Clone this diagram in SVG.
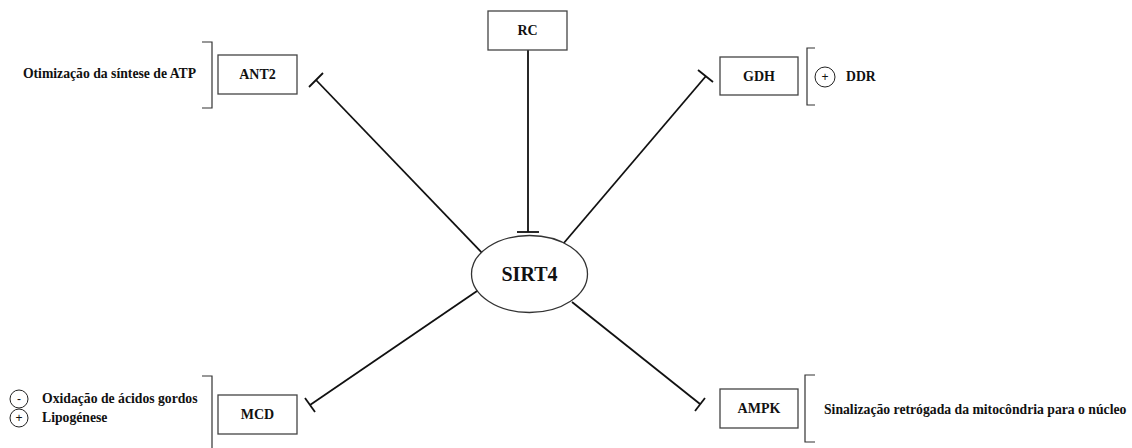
<svg xmlns="http://www.w3.org/2000/svg" width="1132" height="448" viewBox="0 0 1132 448">
  <style>
    .box { fill: #fff; stroke: #444; stroke-width: 1.3; }
    .lbl { font-family: "Liberation Serif", "Times New Roman", serif; font-weight: bold; font-size: 14px; fill: #111; }
    .side { font-family: "Liberation Serif", "Times New Roman", serif; font-weight: bold; font-size: 13.7px; fill: #111; }
    .edge { stroke: #111; stroke-width: 1.8; fill: none; }
    .brk { stroke: #333; stroke-width: 1.2; fill: none; }
    .sign { fill: #fff; stroke: #222; stroke-width: 1; }
    .signtxt { font-family: "Liberation Sans", Arial, sans-serif; font-size: 12px; fill: #111; }
  </style>
  <rect width="1132" height="448" fill="#fff"/>

  <!-- inhibition connectors -->
  <g id="connectors">
    <line class="edge" x1="528" y1="50" x2="528" y2="232"/>
    <line class="edge" x1="517" y1="232" x2="539" y2="232"/>

    <line class="edge" x1="486" y1="257" x2="316" y2="80"/>
    <line class="edge" x1="309" y1="87" x2="323" y2="73"/>

    <line class="edge" x1="563" y1="244" x2="706" y2="76"/>
    <line class="edge" x1="698" y1="70" x2="713" y2="82"/>

    <line class="edge" x1="480" y1="289" x2="310" y2="405"/>
    <line class="edge" x1="305" y1="398" x2="315" y2="412"/>

    <line class="edge" x1="572" y1="302" x2="700" y2="404"/>
    <line class="edge" x1="695" y1="411" x2="705" y2="398"/>
  </g>

  <g id="sirt4">
    <ellipse cx="529.5" cy="274" rx="58" ry="38.5" fill="#fff" stroke="#333" stroke-width="1.3"/>
    <text x="529.5" y="281" text-anchor="middle" font-family="Liberation Serif, Times New Roman, serif" font-weight="bold" font-size="20" fill="#111">SIRT4</text>
  </g>

  <g id="rc">
    <rect class="box" x="488" y="11" width="79" height="39"/>
    <text class="lbl" x="527.5" y="35" text-anchor="middle">RC</text>
  </g>

  <g id="ant2">
    <rect class="box" x="218" y="55" width="79" height="39"/>
    <text class="lbl" x="257.5" y="79" text-anchor="middle">ANT2</text>
    <path class="brk" d="M202 42 H212 V108 H202"/>
    <text class="side" x="196" y="78" text-anchor="end">Otimização da síntese de ATP</text>
  </g>

  <g id="gdh">
    <rect class="box" x="720" y="57" width="78" height="38"/>
    <text class="lbl" x="759" y="81" text-anchor="middle">GDH</text>
    <path class="brk" d="M815 48 H807 V105 H815"/>
    <circle class="sign" cx="825" cy="77" r="10"/>
    <text class="signtxt" x="825" y="81" text-anchor="middle">+</text>
    <text class="side" x="846" y="81">DDR</text>
  </g>

  <g id="mcd">
    <rect class="box" x="218" y="395" width="79" height="39"/>
    <text class="lbl" x="257.5" y="419" text-anchor="middle">MCD</text>
    <path class="brk" d="M202 376 H212 V452"/>
    <circle class="sign" cx="19" cy="399" r="9"/>
    <text class="signtxt" x="19" y="403" text-anchor="middle">-</text>
    <text class="side" x="42" y="403">Oxidação de ácidos gordos</text>
    <circle class="sign" cx="19" cy="418" r="9"/>
    <text class="signtxt" x="19" y="422" text-anchor="middle">+</text>
    <text class="side" x="42" y="422">Lipogénese</text>
  </g>

  <g id="ampk">
    <rect class="box" x="720" y="389" width="78" height="39"/>
    <text class="lbl" x="759" y="413" text-anchor="middle">AMPK</text>
    <path class="brk" d="M815 375 H805 V442 H815"/>
    <text class="side" x="824" y="414">Sinalização retrógada da mitocôndria para o núcleo</text>
  </g>
</svg>
